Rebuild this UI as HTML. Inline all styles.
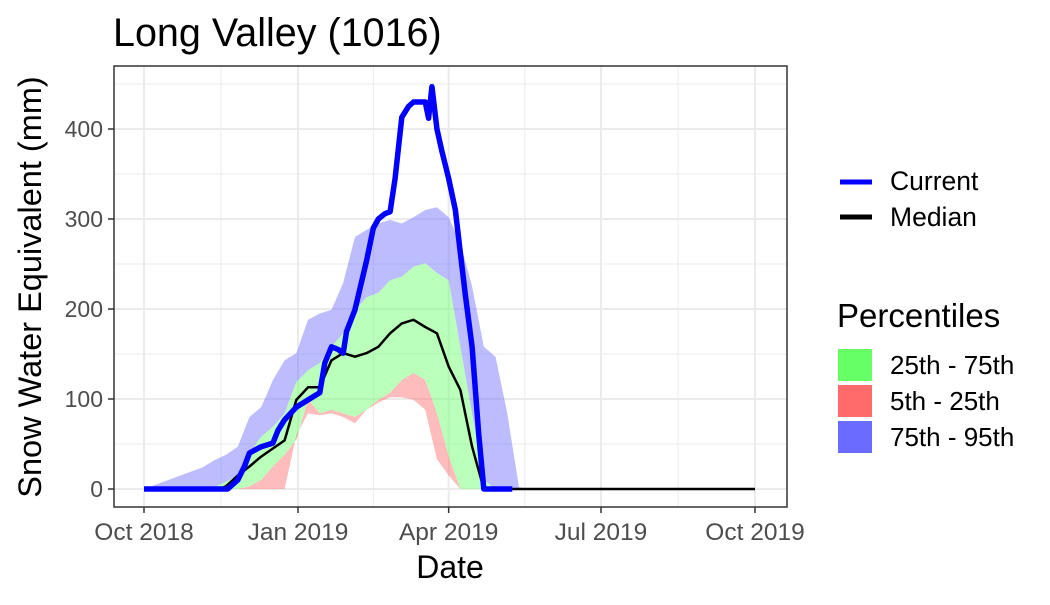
<!DOCTYPE html>
<html><head><meta charset="utf-8"><style>
body{margin:0;background:#fff;font-family:"Liberation Sans",sans-serif}
</style></head><body>
<svg width="1050" height="600" xmlns="http://www.w3.org/2000/svg" id="svg" font-family="Liberation Sans, sans-serif">
<text x="113" y="46" font-size="39.5">Long Valley (1016)</text>
<g id="grid"></g><g id="bands"></g><g id="lines"></g>
<rect x="114" y="66" width="673" height="441" fill="none" stroke="#333" stroke-width="1.5"/>
<g id="axes"></g>
<text x="450" y="578" font-size="32" text-anchor="middle">Date</text>
<text transform="translate(41,287) rotate(-90)" font-size="32.5" text-anchor="middle">Snow Water Equivalent (mm)</text>
<g>
<line x1="840" y1="182" x2="872" y2="182" stroke="#0000ff" stroke-width="5"/>
<text x="890" y="190" font-size="26.5">Current</text>
<line x1="840" y1="217" x2="872" y2="217" stroke="#000" stroke-width="5"/>
<text x="890" y="226" font-size="26.5">Median</text>
<text x="837" y="327" font-size="33">Percentiles</text>
<rect x="838" y="349" width="34" height="32" fill="#66ff66"/>
<text x="890" y="374" font-size="26">25th - 75th</text>
<rect x="838" y="385" width="34" height="32" fill="#ff6b6b"/>
<text x="890" y="410" font-size="26">5th - 25th</text>
<rect x="838" y="421" width="34" height="32" fill="#6b6bff"/>
<text x="890" y="446" font-size="26">75th - 95th</text>
</g>
</svg>
<script>
// days since 2018-10-01
const bandDays=[0,35,42,49,56,63,70,77,84,91,98,105,112,119,126,133,140,147,154,161,168,175,182,189,196,203,210,217,224,230,365];
const p95=[0,24,32,38,47,80,91,121,143,151,188,195,199,229,280,288,295,299,295,302,310,313,302,273,225,158,147,84,2,0,0];
const p75=[0,0,2,8,15,40,58,69,84,119,132,140,158,173,199,213,218,232,236,247,251,240,232,158,84,10,0,0,0,0,0];
const p25=[0,0,0,0,0,3,10,25,38,55,99,84,88,84,80,88,99,107,121,129,121,84,36,0,0,0,0,0,0,0,0];
const p5=[0,0,0,0,0,0,0,0,0,60,84,82,84,80,73,88,96,102,102,99,88,33,15,0,0,0,0,0,0,0,0];
const medDays=[0,45,49,56,63,70,77,84,91,98,105,112,119,126,133,140,147,154,161,168,175,182,189,196,203,365];
const median=[0,0,3,15,25,36,45,54,99,113,113,143,151,147,151,158,173,184,188,180,173,136,110,47,0,0];
const curDays=[0,50,53,56,60,63,70,77,80,84,91,98,105,108,112,116,119,121,126,133,137,140,144,147,150,154,158,161,165,168,170,172,175,178,182,186,189,192,196,200,203,220];
const current=[0,0,5,10,25,40,47,51,65,77,91,99,107,140,158,155,151,175,199,254,290,300,306,308,345,413,425,430,430,430,412,447,400,375,345,310,262,215,158,60,0,0];
const yTicks=[0,100,200,300,400];
const xTickDays=[0,92,182,273,365];
const xTickLabels=["Oct 2018","Jan 2019","Apr 2019","Jul 2019","Oct 2019"];
const X=d=>144+d*(611/365), Y=v=>489-v*0.9;
const NS="http://www.w3.org/2000/svg";
function mk(tag,attrs,parent){const e=document.createElementNS(NS,tag);for(const k in attrs)e.setAttribute(k,attrs[k]);document.getElementById(parent).appendChild(e);return e;}
for(let v=0;v<=450;v+=50){const g=mk('line',{x1:114,x2:787,y1:Y(v),y2:Y(v),stroke:'#ebebeb','stroke-width':v%100?1:2},'grid');

}
for(let i=0;i<xTickDays.length;i++){const d=xTickDays[i];const g=mk('line',{x1:X(d),x2:X(d),y1:66,y2:507,stroke:'#ebebeb','stroke-width':2},'grid');


if(i<xTickDays.length-1){const m=(d+xTickDays[i+1])/2;const g2=mk('line',{x1:X(m),x2:X(m),y1:66,y2:507,stroke:'#ebebeb','stroke-width':1},'grid');

}}
function band(lo,hi,fill,name){let p=bandDays.map((d,i)=>X(d)+','+Y(hi[i]));for(let i=bandDays.length-1;i>=0;i--)p.push(X(bandDays[i])+','+Y(lo[i]));
const e=mk('polygon',{points:p.join(' '),fill:fill,opacity:0.45},'bands');

}
band(p75,p95,'#6b6bff','band-75-95');
band(p25,p75,'#66ff66','band-25-75');
band(p5,p25,'#ff6b6b','band-5-25');
function line(days,vals,color,w,name){const e=mk('polyline',{points:days.map((d,i)=>X(d)+','+Y(vals[i])).join(' '),fill:'none',stroke:color,'stroke-width':w,'stroke-linejoin':'round'},'lines');

}
line(medDays,median,'#000',2.5,'median-line');
line(curDays,current,'#0000ff',5.5,'current-line');
yTicks.forEach(v=>{const t=mk('text',{x:103,y:Y(v)+8,'font-size':23,fill:'#4d4d4d','text-anchor':'end'},'axes');t.textContent=v;


const l=mk('line',{x1:108,x2:114,y1:Y(v),y2:Y(v),stroke:'#333','stroke-width':1.5},'axes');

});
xTickDays.forEach((d,i)=>{const t=mk('text',{x:X(d),y:540,'font-size':24.5,fill:'#4d4d4d','text-anchor':'middle'},'axes');t.textContent=xTickLabels[i];


const l=mk('line',{x1:X(d),x2:X(d),y1:507,y2:513,stroke:'#333','stroke-width':1.5},'axes');

});
</script>
</body></html>
